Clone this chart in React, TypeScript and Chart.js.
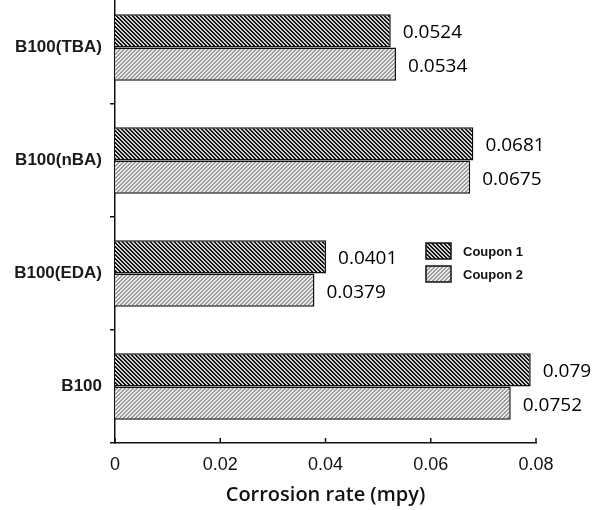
import React, { useEffect, useRef } from "react";
import { Chart, registerables } from "chart.js";

Chart.register(...registerables);

const categories = ["B100(TBA)", "B100(nBA)", "B100(EDA)", "B100"];
const coupon1 = [0.0524, 0.0681, 0.0401, 0.079];
const coupon2 = [0.0534, 0.0675, 0.0379, 0.0752];
const seriesNames = ["Coupon 1", "Coupon 2"];
const xTicks = [0, 0.02, 0.04, 0.06, 0.08];
const xTitle = "Corrosion rate (mpy)";

const TOP_SHIFT = 20;

function makePattern(ctx: CanvasRenderingContext2D, bg: string, fg: string, dir: "back" | "fwd") {
  const c = document.createElement("canvas");
  c.width = 4;
  c.height = 4;
  const g = c.getContext("2d")!;
  g.fillStyle = bg;
  g.fillRect(0, 0, 4, 4);
  g.fillStyle = fg;
  for (let y = 0; y < 4; y++) {
    for (let x = 0; x < 4; x++) {
      const k = dir === "back" ? (x - y + 8) % 4 : (x + y) % 4;
      if (k === 0 || k === 1) g.fillRect(x, y, 1, 1);
    }
  }
  return ctx.createPattern(c, "repeat")!;
}

export default function App() {
  const ref = useRef<HTMLCanvasElement>(null);
  useEffect(() => {
    const canvas = ref.current!;
    const ctx = canvas.getContext("2d")!;
    const p1 = makePattern(ctx, "#d0d0d0", "#141414", "back");
    const p2 = makePattern(ctx, "#ececec", "#9a9a9a", "fwd");
    const patterns = [p1, p2];

    const valueLabels = {
      id: "valueLabels",
      afterDatasetsDraw(chart: any) {
        const c = chart.ctx;
        c.save();
        c.font = "19px 'Open Sans'";
        c.fillStyle = "#000";
        c.textAlign = "left";
        c.textBaseline = "middle";
        chart.data.datasets.forEach((ds: any, di: number) => {
          const meta = chart.getDatasetMeta(di);
          meta.data.forEach((bar: any, i: number) => {
            c.fillText(String(ds.data[i]), bar.x + 12, bar.y + 2);
          });
        });
        c.restore();
      },
    };

    const axisExtras = {
      id: "axisExtras",
      afterDraw(chart: any) {
        const c = chart.ctx;
        const xs = chart.scales.x;
        const bottom = chart.chartArea.bottom;
        c.save();
        c.strokeStyle = "#111";
        c.lineWidth = 1.5;
        xTicks.forEach((t) => {
          const px = xs.getPixelForValue(t);
          c.beginPath();
          c.moveTo(px, bottom);
          c.lineTo(px, bottom - 5);
          c.stroke();
        });
        // legend
        const lx = 426;
        const ly = [243 + TOP_SHIFT, 266 + TOP_SHIFT];
        c.font = "bold 13px 'Liberation Sans', Arial";
        c.textBaseline = "middle";
        c.textAlign = "left";
        seriesNames.forEach((name, i) => {
          c.fillStyle = patterns[i];
          c.fillRect(lx, ly[i], 25, 16);
          c.strokeStyle = "#111";
          c.lineWidth = 1.5;
          c.strokeRect(lx, ly[i], 25, 16);
          c.fillStyle = "#111";
          c.fillText(name, 463, ly[i] + 9);
        });
        c.restore();
      },
    };

    const chart = new Chart(canvas, {
      type: "bar",
      data: {
        labels: categories,
        datasets: [
          {
            label: seriesNames[0],
            data: coupon1,
            backgroundColor: p1 as any,
            borderColor: "#111",
            borderWidth: 1.5,
            barPercentage: 1,
            categoryPercentage: 0.59,
          },
          {
            label: seriesNames[1],
            data: coupon2,
            backgroundColor: p2 as any,
            borderColor: "#111",
            borderWidth: 1.5,
            barPercentage: 1,
            categoryPercentage: 0.59,
          },
        ],
      },
      options: {
        indexAxis: "y",
        animation: false,
        responsive: false,
        maintainAspectRatio: false,
        layout: { padding: { top: 11, right: 60, left: 0, bottom: 0 } },
        plugins: {
          legend: { display: false },
          tooltip: { enabled: false },
        },
        scales: {
          x: {
            type: "linear",
            min: 0,
            max: 0.08,
            afterBuildTicks(scale: any) {
              scale.ticks = xTicks.map((v) => ({ value: v }));
            },
            afterFit(scale: any) {
              scale.height = 67;
              scale.paddingLeft = 0;
              scale.paddingRight = 0;
            },
            grid: { display: false, drawTicks: false },
            border: { display: true, color: "#111", width: 1.5 },
            ticks: {
              padding: 11,
              color: "#111",
              font: { family: "'Liberation Sans', Arial", size: 18 },
              callback: (v: any) => String(v),
            },
            title: {
              display: true,
              text: xTitle,
              color: "#111",
              font: { family: "'Open Sans'", size: 20, weight: "600" },
              padding: { top: 0, bottom: 3 },
            },
          },
          y: {
            type: "category",
            afterFit(scale: any) {
              scale.width = 115;
              scale.paddingTop = 0;
              scale.paddingBottom = 0;
            },
            grid: {
              display: true,
              offset: true,
              drawOnChartArea: false,
              drawTicks: true,
              tickLength: 5,
              color: "#111",
              lineWidth: 1.5,
            },
            border: { display: true, color: "#111", width: 1.5 },
            ticks: {
              padding: 8,
              color: "#1a1a1a",
              font: { family: "'Liberation Sans', Arial", size: 17, weight: "bold" },
            },
          },
        },
      },
      plugins: [valueLabels, axisExtras],
    });
    return () => chart.destroy();
  }, []);

  return (
    <div style={{ position: "fixed", left: 0, top: -TOP_SHIFT, width: 596, height: 510 + TOP_SHIFT, background: "#fff" }}>
      <canvas ref={ref} width={596} height={510 + TOP_SHIFT} style={{ width: 596, height: 510 + TOP_SHIFT, display: "block" }} />
    </div>
  );
}
